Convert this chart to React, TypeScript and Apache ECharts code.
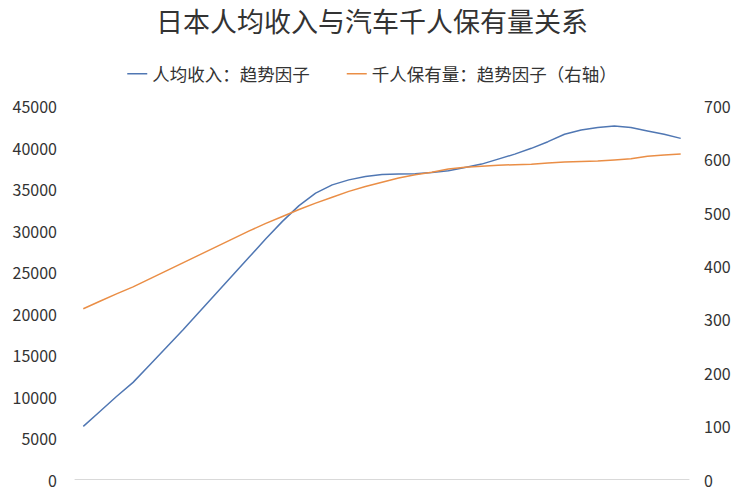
import React, { useEffect, useRef } from "react";
import * as echarts from "echarts";

const years: string[] = [];
for (let y = 1980; y <= 2016; y++) years.push(String(y));

const incomeTrend = [
  6400, 8200, 10000, 11700, 13800, 15900, 18000, 20200, 22400, 24600,
  26800, 29000, 31100, 33000, 34500, 35500, 36100, 36500, 36750, 36800,
  36850, 37000, 37200, 37600, 38000, 38600, 39200, 39900, 40700, 41600,
  42100, 42400, 42600, 42400, 42000, 41600, 41100,
];

const carsPerThousandTrend = [
  320, 334, 348, 361, 376, 391, 406, 421, 436, 451,
  466, 480, 493, 506, 518, 529, 540, 549, 557, 565,
  571, 576, 582, 585, 587, 589, 590, 591, 593, 595,
  596, 597, 599, 601, 606, 608, 610,
];

const titleText = "日本人均收入与汽车千人保有量关系";
const seriesNames = ["人均收入：趋势因子", "千人保有量：趋势因子（右轴）"];

export default function App() {
  const ref = useRef<HTMLDivElement>(null);
  useEffect(() => {
    if (!ref.current) return;
    const chart = echarts.init(ref.current, null, { renderer: "svg" });
    const font = "'Noto Sans CJK SC', 'Noto Sans', sans-serif";
    const plain = (v: number) => String(v);
    chart.setOption({
      animation: false,
      backgroundColor: "#ffffff",
      textStyle: { fontFamily: font },
      title: {
        text: titleText,
        left: "center",
        top: 7,
        padding: 0,
        textStyle: { fontSize: 27, fontWeight: "normal", color: "#333333", fontFamily: font },
      },
      legend: {
        top: 65,
        left: "center",
        padding: 0,
        icon: "rect",
        itemWidth: 20,
        itemHeight: 1.5,
        itemGap: 37,
        textStyle: { fontSize: 17.5, color: "#333333", fontFamily: font },
        data: seriesNames,
      },
      grid: {
        left: 75,
        right: 55,
        top: 106,
        bottom: 10.5,
        outerBoundsMode: "none",
      },
      xAxis: {
        type: "category",
        data: years,
        boundaryGap: true,
        axisLine: { show: true, lineStyle: { color: "#d9d9d9", width: 1 } },
        axisTick: { show: false },
        axisLabel: { show: false },
        splitLine: { show: false },
      },
      yAxis: [
        {
          type: "value",
          min: 0,
          max: 45000,
          interval: 5000,
          axisLine: { show: false },
          axisTick: { show: false },
          splitLine: { show: false },
          axisLabel: {
            fontSize: 16,
            lineHeight: 14,
            color: "#333333",
            margin: 18,
            fontFamily: font,
            formatter: plain,
          },
        },
        {
          type: "value",
          min: 0,
          max: 700,
          interval: 100,
          position: "right",
          axisLine: { show: false },
          axisTick: { show: false },
          splitLine: { show: false },
          axisLabel: {
            fontSize: 16,
            lineHeight: 14,
            color: "#333333",
            margin: 15,
            fontFamily: font,
            formatter: plain,
          },
        },
      ],
      series: [
        {
          name: seriesNames[0],
          type: "line",
          yAxisIndex: 0,
          data: incomeTrend,
          symbol: "none",
          lineStyle: { color: "#5077b3", width: 1.5 },
          itemStyle: { color: "#5077b3" },
        },
        {
          name: seriesNames[1],
          type: "line",
          yAxisIndex: 1,
          data: carsPerThousandTrend,
          symbol: "none",
          lineStyle: { color: "#ea8e46", width: 1.5 },
          itemStyle: { color: "#ea8e46" },
        },
      ],
    });
    return () => chart.dispose();
  }, []);
  return (
    <div
      ref={ref}
      style={{ position: "fixed", left: 0, top: 0, width: 744, height: 490 }}
    />
  );
}
